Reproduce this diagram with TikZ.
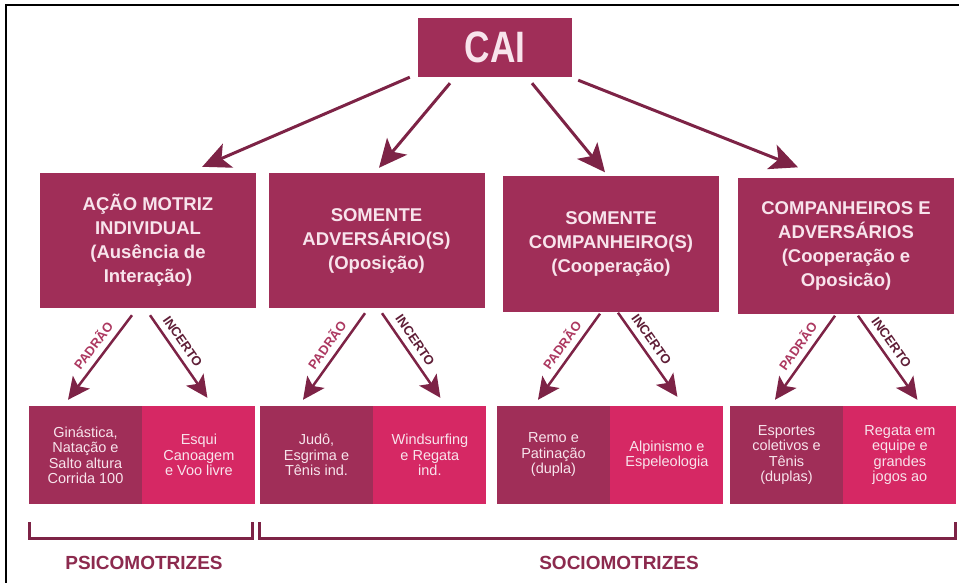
\documentclass[tikz,border=0pt]{standalone}
\usepackage{fontspec}
\setmainfont{Liberation Sans}
\usepackage{graphicx}
\usetikzlibrary{calc,positioning,arrows.meta}

\definecolor{caired}{RGB}{160,46,88}
\definecolor{caipink}{RGB}{214,40,100}
\definecolor{arrowred}{RGB}{125,35,70}
\definecolor{lighttext}{RGB}{248,228,236}
\definecolor{labelpink}{RGB}{172,56,96}
\definecolor{labeldark}{RGB}{95,30,55}
\definecolor{groupred}{RGB}{140,42,78}

\tikzset{
  topbox/.style={fill=caired, text=lighttext, align=center, inner sep=0pt,
    font=\bfseries\fontsize{18.5}{24}\selectfont},
  cell/.style={minimum width=113pt, minimum height=98pt, inner sep=0pt,
    text=lighttext, align=center, font=\fontsize{14.5}{15.5}\selectfont},
  darkcell/.style={cell, fill=caired},
  pinkcell/.style={cell, fill=caipink},
  bigarrow/.style={draw=arrowred, line width=3pt,
    -{Stealth[length=28pt,width=26pt,inset=7pt]}},
  smallarrow/.style={draw=arrowred, line width=2.5pt,
    -{Stealth[length=22pt,width=21pt,inset=5pt]}},
  padrao/.style={sloped, above=6pt, inner sep=0pt, text=labelpink,
    font=\bfseries\fontsize{13}{13}\selectfont},
  incerto/.style={sloped, above=6pt, inner sep=0pt, text=labeldark,
    font=\bfseries\fontsize{13}{13}\selectfont},
  bracket/.style={draw=arrowred, line width=3pt},
  group/.style={text=groupred, font=\bfseries\fontsize{19}{20}\selectfont}
}

\begin{document}
\begin{tikzpicture}[x=1pt, y=-1pt]
  \useasboundingbox (0,0) rectangle (959,583);
  \draw[line width=2.5pt] (6,583) -- (6,5) -- (959,5);

  \node[topbox, minimum width=154pt, minimum height=59pt,
    font=\bfseries\fontsize{44}{44}\selectfont] (cai) at (495,47.5) {\scalebox{0.8}[1]{CAI}};

  \node[topbox, minimum width=216pt, minimum height=135pt] (ind) at (148,240.5)
    {AÇÃO MOTRIZ\\INDIVIDUAL\\(Ausência de\\Interação)};
  \node[topbox, minimum width=216pt, minimum height=135pt] (adv) at (376.5,240.5)
    {SOMENTE\\ADVERSÁRIO(S)\\(Oposição)};
  \node[topbox, minimum width=216pt, minimum height=135pt] (comp) at (611,244)
    {SOMENTE\\COMPANHEIRO(S)\\(Cooperação)};
  \node[topbox, minimum width=216pt, minimum height=135pt] (compadv) at (846,246)
    {COMPANHEIROS E\\ADVERSÁRIOS\\(Cooperação e\\Oposicão)};

  \node[darkcell] (gin) at (85.5,455) {Ginástica,\\Natação e\\Salto altura\\Corrida 100};
  \node[pinkcell, right=0pt of gin] (esqui) {Esqui\\Canoagem\\e Voo livre};
  \node[darkcell] (judo) at (316.5,455) {Judô,\\Esgrima e\\Tênis ind.};
  \node[pinkcell, right=0pt of judo] (wind) {Windsurfing\\e Regata\\ind.};
  \node[darkcell] (remo) at (553.5,455) {Remo e\\Patinação\\(dupla)};
  \node[pinkcell, right=0pt of remo] (alpi) {Alpinismo e\\Espeleologia};
  \node[darkcell] (esp) at (786.5,455) {Esportes\\coletivos e\\Tênis\\(duplas)};
  \node[pinkcell, right=0pt of esp] (reg) {Regata em\\equipe e\\grandes\\jogos ao};

  \draw[bigarrow] ($(cai.south west)+(-8,0)$) -- ($(ind.north east)+(-54,-6)$);
  \draw[bigarrow] ($(cai.south)+(-45,6)$) -- ($(adv.north)+(2.5,-5)$);
  \draw[bigarrow] ($(cai.south)+(37,6)$) -- ($(comp.north)+(-6,-4)$);
  \draw[bigarrow] ($(cai.south east)+(6,3)$) -- ($(compadv.north)+(-48,-11)$);

  \draw[smallarrow] ($(ind.south)+(-16,7)$) -- node[padrao, pos=0.45] {PADRÃO} ($(gin.north)+(-17.5,-6)$);
  \draw[smallarrow] ($(ind.south)+(2,7)$) -- node[incerto, pos=0.4] {INCERTO} ($(esqui.north)+(8.5,-8)$);
  \draw[smallarrow] ($(adv.south)+(-11.5,5)$) -- node[padrao, pos=0.45] {PADRÃO} ($(judo.north)+(-13.5,-6)$);
  \draw[smallarrow] ($(adv.south)+(5.5,5)$) -- node[incerto, pos=0.4] {INCERTO} ($(wind.north)+(10.5,-8)$);
  \draw[smallarrow] ($(comp.south)+(-11,2)$) -- node[padrao, pos=0.45] {PADRÃO} ($(remo.north)+(-15.5,-6)$);
  \draw[smallarrow] ($(comp.south)+(7,1)$) -- node[incerto, pos=0.4] {INCERTO} ($(alpi.north)+(10.5,-9)$);
  \draw[smallarrow] ($(compadv.south)+(-11,2)$) -- node[padrao, pos=0.45] {PADRÃO} ($(esp.north)+(-11.5,-6)$);
  \draw[smallarrow] ($(compadv.south)+(12,2)$) -- node[incerto, pos=0.4] {INCERTO} ($(reg.north)+(17.5,-6)$);

  \draw[bracket] ($(gin.south west)+(1,18)$) -- ++(0,16) -| ($(esqui.south east)+(-3,18)$);
  \draw[bracket] ($(judo.south west)+(0,18)$) -- ++(0,16) -| ($(reg.south east)+(-1,18)$);

  \node[group] (psico) at (144,563) {PSICOMOTRIZES};
  \node[group] (socio) at (619,563) {SOCIOMOTRIZES};
\end{tikzpicture}
\end{document}
